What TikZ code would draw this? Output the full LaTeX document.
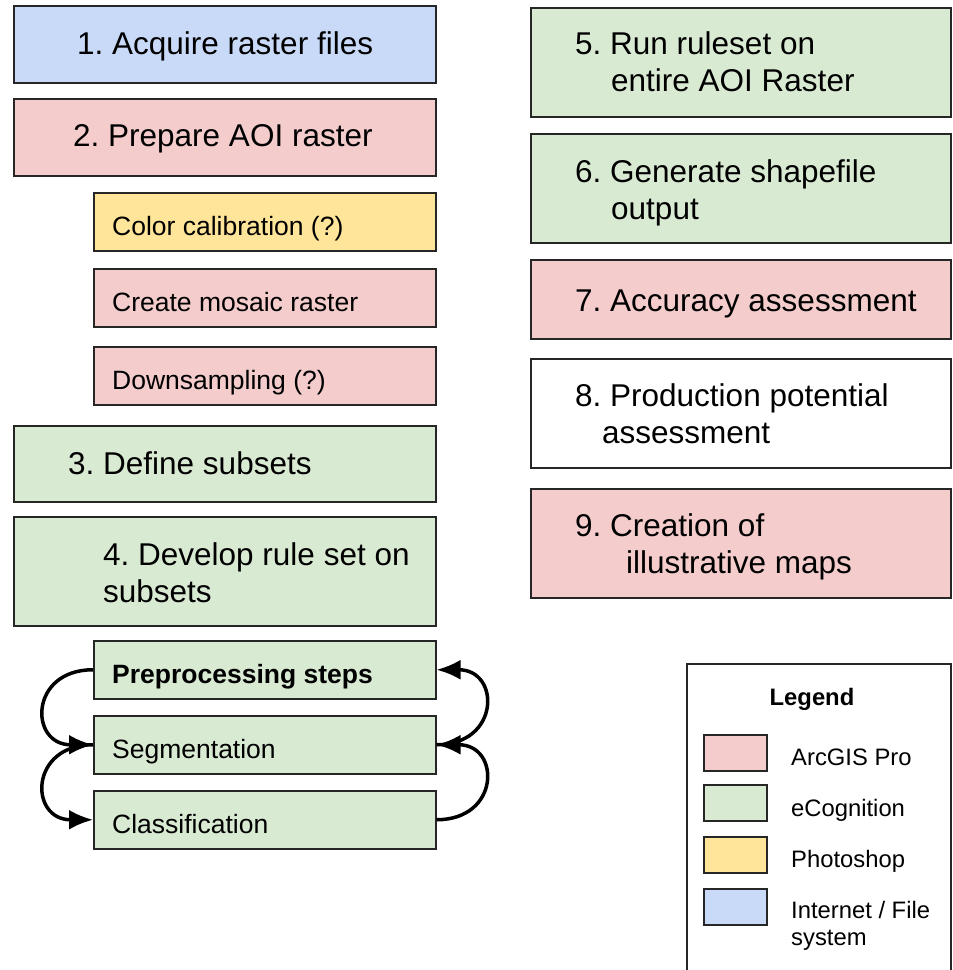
\documentclass[tikz,border=0pt]{standalone}
\usepackage{fontspec}
\setmainfont{Liberation Sans}
\usetikzlibrary{arrows.meta}
\usepackage{xcolor}
\frenchspacing

\definecolor{arcgis}{HTML}{F4CCCC}
\definecolor{ecog}{HTML}{D9EAD3}
\definecolor{photoshop}{HTML}{FFE599}
\definecolor{filesys}{HTML}{C9DAF8}

\newcommand{\bigtxt}{\fontsize{31.5}{37.5}\selectfont}
\newcommand{\smalltxt}{\fontsize{26.5}{31}\selectfont}
\newcommand{\legtxt}{\fontsize{23.8}{27}\selectfont}

\begin{document}
\begin{tikzpicture}[x=1pt, y=-1pt,
    box/.style={draw=black!85, line width=1.5pt, anchor=north west, inner sep=0pt},
    txt/.style={anchor=base west, align=left, inner sep=0pt},
    flow/.style={line width=3.5pt, -{Latex[length=24pt, width=20pt]}}]
    \useasboundingbox (0,0) rectangle (953,970);

    % Left column (text placed by the baseline of its last line)
    \foreach \n/\y/\h/\col/\pad/\b/\txt in {
        1/5/77/filesys/64/49/{1. Acquire raster files},
        2/98/77/arcgis/60/48.7/{2. Prepare AOI raster},
        3/425/76/ecog/55/49/{3. Define subsets},
        4/516/109/ecog/90/86.5/{4. Develop rule set on\\subsets}} {
        \node[box, fill=\col, minimum width=422pt, minimum height=\h pt] (s\n) at (13,\y) {};
        \node[txt, font=\bigtxt] (t\n) at ([shift={(\pad,\b)}]s\n.north west) {\txt};
    }

    % Sub-steps of 2.
    \foreach \n/\y/\col/\txt in {
        cal/192/photoshop/{Color calibration (?)},
        mos/268/arcgis/{Create mosaic raster},
        down/346/arcgis/{Downsampling (?)}} {
        \node[box, fill=\col, minimum width=342pt, minimum height=58pt] (\n) at (93,\y) {};
        \node[txt, font=\smalltxt] (t\n) at ([shift={(19,43.5)}]\n.north west) {\txt};
    }

    % Loop of 4.
    \foreach \n/\y/\txt in {
        pre/640/{\bfseries Preprocessing steps},
        seg/715/{Segmentation},
        cls/790/{Classification}} {
        \node[box, fill=ecog, minimum width=342pt, minimum height=58pt] (\n) at (93,\y) {};
        \node[txt, font=\smalltxt] (t\n) at ([shift={(19,43.5)}]\n.north west) {\txt};
    }

    \draw[flow] (pre.west) .. controls +(-64,0) and +(-64,0) .. (seg.west);
    \draw[flow] (seg.west) .. controls +(-64,0) and +(-64,0) .. (cls.west);
    \draw[flow] (seg.east) .. controls +(64,0) and +(64,0) .. (pre.east);
    \draw[flow] (cls.east) .. controls +(64,0) and +(64,0) .. (seg.east);

    % Right column
    \foreach \n/\y/\h/\col/\b/\txt in {
        5/7/109/ecog/84.5/{5. Run ruleset on\\\hspace*{36pt}entire AOI Raster},
        6/133/109/ecog/86.5/{6. Generate shapefile\\\hspace*{36pt}output},
        7/259/79/arcgis/52/{7. Accuracy assessment},
        8/358/109/white/85.5/{8. Production potential\\\hspace*{27pt}assessment},
        9/488/109/arcgis/85.5/{9. Creation of\\\hspace*{51pt}illustrative maps}} {
        \node[box, fill=\col, minimum width=420pt, minimum height=\h pt] (s\n) at (530,\y) {};
        \node[txt, font=\bigtxt] (t\n) at ([shift={(45,\b)}]s\n.north west) {\txt};
    }

    % Legend
    \node[box, fill=white, minimum width=264pt, minimum height=320pt] (legend) at (686,663) {};
    \node[font=\legtxt\bfseries, anchor=base, inner sep=0pt] (legtitle) at (812,705) {Legend};
    \foreach \i/\y/\col/\ty/\txt in {
        1/734/arcgis/765/{ArcGIS Pro},
        2/784/ecog/816/{eCognition},
        3/836/photoshop/867/{Photoshop},
        4/888/filesys/945/{Internet / File\\system}} {
        \node[box, fill=\col, minimum width=63pt, minimum height=36pt] (sw\i) at (703,\y) {};
        \node[txt, font=\legtxt] (lg\i) at (791,\ty) {\txt};
    }
\end{tikzpicture}
\end{document}
